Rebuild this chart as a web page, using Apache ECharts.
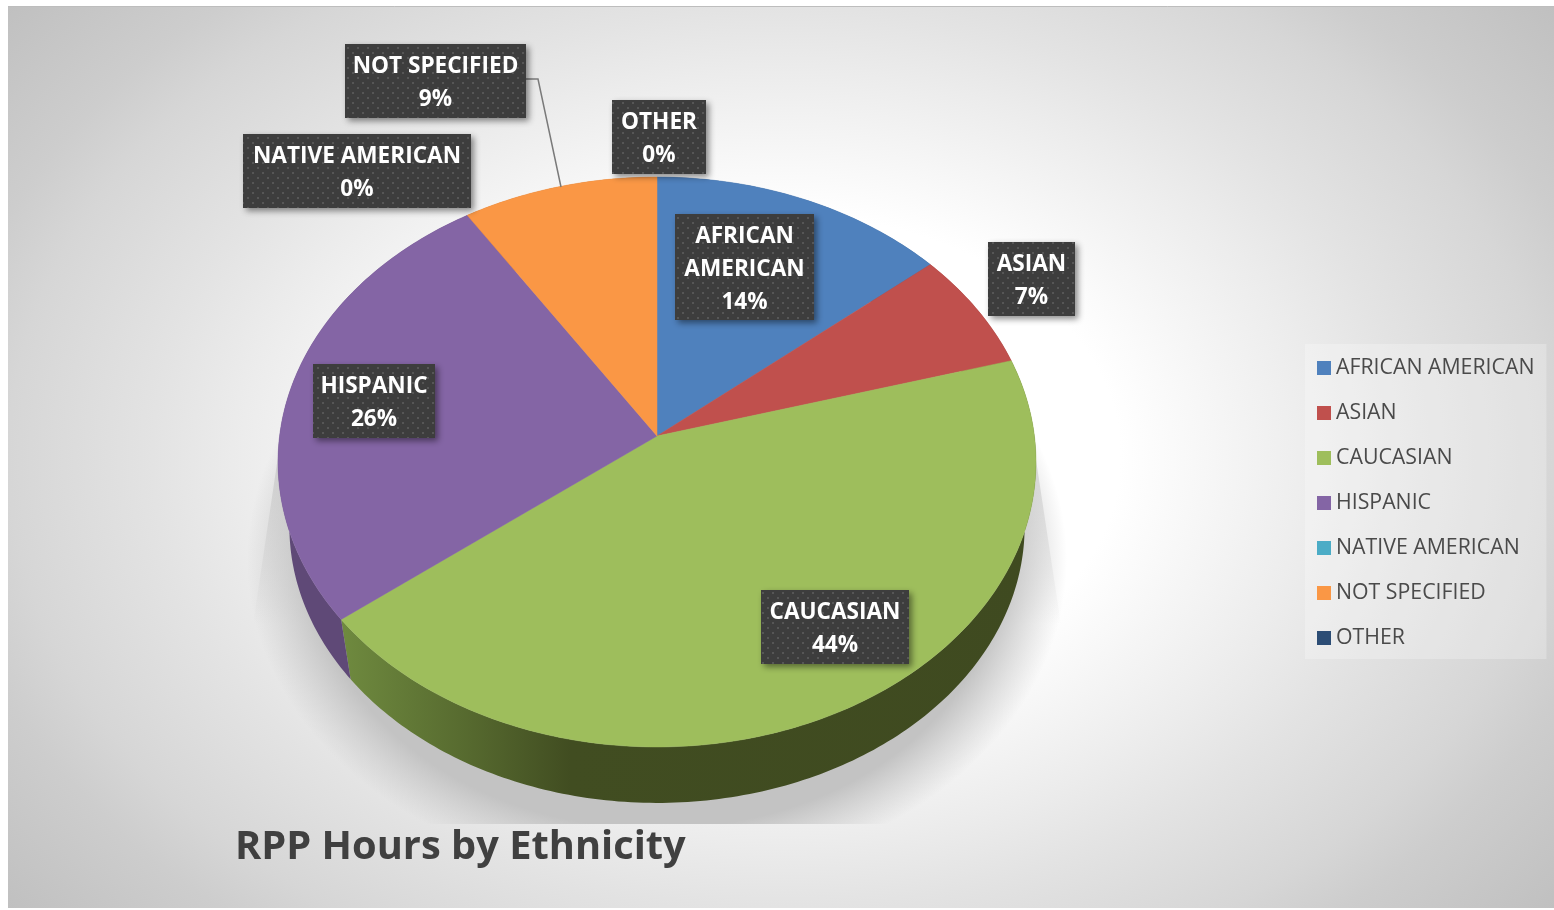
<!DOCTYPE html>
<html>
<head>
<meta charset="utf-8">
<title>RPP Hours by Ethnicity</title>
<script src="https://cdn.jsdelivr.net/npm/echarts@6/dist/echarts.min.js"></script>
<style>
  html, body { margin: 0; padding: 0; background: #fff; }
  #chart { width: 1554px; height: 910px; }
</style>
</head>
<body>
<div id="chart"></div>
<script>
// values (share of RPP hours, %)
const ethnicities = ['AFRICAN AMERICAN', 'ASIAN', 'CAUCASIAN', 'HISPANIC', 'NATIVE AMERICAN', 'NOT SPECIFIED', 'OTHER'];
const hours = [13.9, 6.7, 43.9, 26.4, 0, 9.1, 0];
const colors = ['#4f81bd', '#c0504d', '#9ebe5c', '#8465a5', '#4bacc6', '#fa9745', '#2c4d75'];

// callout boxes are hand placed in the original, so they are here too
const labelBoxes = [
    { x: 675, y: 214, w: 139, h: 106, lines: ['AFRICAN', 'AMERICAN'] },
    { x: 988, y: 242, w: 87, h: 74, lines: ['ASIAN'] },
    { x: 761, y: 590, w: 148, h: 74, lines: ['CAUCASIAN'] },
    { x: 313, y: 364, w: 122, h: 74, lines: ['HISPANIC'] },
    { x: 243, y: 134, w: 228, h: 74, lines: ['NATIVE AMERICAN'] },
    { x: 345, y: 44, w: 181, h: 74, lines: ['NOT SPECIFIED'] },
    { x: 612, y: 100, w: 94, h: 74, lines: ['OTHER'] }
];

const FONT = '"Open Sans", sans-serif';
const total = hours.reduce((a, b) => a + b, 0);

// perspective view of the pie disc: ellipse centre is lower than the apex
const CX = 657, EY = 462.5, RX = 377.4, RY = 285, LIFT = 26.5, PERSP = 0.0912;
const BASE_SCALE = 0.97, BASE_Y = 527;

function rimPoint(frac) {
    const th = frac * Math.PI * 2;
    const x = Math.sin(th), y = Math.cos(th);
    const w = 1 + PERSP * y;
    return [CX + RX * x / w, EY - (RY * y + LIFT) / w];
}
function basePoint(p) {
    return [CX + BASE_SCALE * (p[0] - CX), BASE_Y + BASE_SCALE * (p[1] - EY)];
}
function darken(hex, f) {
    const n = parseInt(hex.slice(1), 16);
    const c = [n >> 16, (n >> 8) & 255, n & 255].map(v => Math.round(v * f));
    return 'rgb(' + c.join(',') + ')';
}

// dotted fill of the callout boxes
const dots = document.createElement('canvas');
dots.width = 10;
dots.height = 10;
const dctx = dots.getContext('2d');
dctx.fillStyle = '#3d3d3d';
dctx.fillRect(0, 0, 10, 10);
dctx.fillStyle = '#565656';
dctx.fillRect(2, 2, 2, 2);
dctx.fillRect(7, 7, 2, 2);

function wallFill(idx) {
    if (ethnicities[idx] === 'CAUCASIAN') {
        return {
            type: 'linear', x: 0, y: 0, x2: 1, y2: 0,
            colorStops: [
                { offset: 0, color: '#6f8a3f' },
                { offset: 0.17, color: '#586c30' },
                { offset: 0.33, color: '#414d21' },
                { offset: 1, color: '#3f4a20' }
            ]
        };
    }
    return darken(colors[idx], 0.72);
}

function renderSlice(idx) {
    return function (params, api) {
        const value = api.value(0);
        const before = hours.slice(0, idx).reduce((a, b) => a + b, 0);
        const children = [];

        if (value > 0) {
            const steps = Math.ceil(value * 4);
            const top = [];
            for (let i = 0; i <= steps; i++) {
                top.push(rimPoint((before + value * i / steps) / total));
            }
            const wall = top.concat(top.map(basePoint).reverse());
            children.push({
                type: 'polygon', z2: 1,
                shape: { points: wall },
                style: { fill: wallFill(idx) }
            });
            children.push({
                type: 'polygon', z2: 10,
                shape: { points: [[CX, EY - LIFT]].concat(top) },
                style: { fill: colors[idx], stroke: colors[idx], lineWidth: 0.5 }
            });
        }

        const box = labelBoxes[idx];
        if (ethnicities[idx] === 'NOT SPECIFIED') {
            children.push({
                type: 'polyline', z2: 20,
                shape: { points: [[box.x + box.w, 79], [538, 79], [561, 187]] },
                style: { stroke: '#7a7a7a', lineWidth: 1.5, fill: null }
            });
        }
        children.push({
            type: 'rect', z2: 21,
            shape: { x: box.x, y: box.y, width: box.w, height: box.h },
            style: {
                fill: { image: dots, repeat: 'repeat' },
                shadowBlur: 6, shadowOffsetX: 3, shadowOffsetY: 3, shadowColor: 'rgba(0,0,0,0.45)'
            }
        });
        const lines = box.lines.concat(Math.round(value / total * 100) + '%');
        lines.forEach(function (line, i) {
            children.push({
                type: 'text', z2: 22,
                x: box.x + box.w / 2,
                y: box.y + 23 + i * 33,
                style: {
                    text: line, fill: '#fff', font: 'bold 22.6px ' + FONT,
                    textAlign: 'center', textVerticalAlign: 'middle'
                }
            });
        });
        return { type: 'group', children: children };
    };
}

// sharp edged strip beside the pie, dying out towards the floor shadow
function shadowStrip(points) {
    return {
        type: 'polygon',
        shape: { points: points },
        style: {
            fill: {
                type: 'linear', x: 0, y: 0, x2: 0, y2: 1,
                colorStops: [{ offset: 0, color: 'rgba(195,195,195,0.7)' }, { offset: 1, color: 'rgba(195,195,195,0)' }]
            }
        }
    };
}

// soft floor shadow, cut off flat just above the title like the original
function renderShadow() {
    return {
        type: 'group',
        clipPath: { type: 'rect', shape: { x: 0, y: 0, width: 1554, height: 824 } },
        children: [
            shadowStrip([[279, 450], [253, 625], [310, 625], [310, 450]]),
            shadowStrip([[1033, 440], [1061, 625], [1005, 625], [1005, 440]]),
            {
                type: 'circle',
                x: CX, y: 560,
                scaleY: 0.78,
                shape: { cx: 0, cy: 0, r: 410 },
                style: {
                    fill: {
                        type: 'radial', x: 0.5, y: 0.5, r: 0.5,
                        colorStops: [
                            { offset: 0, color: 'rgba(195,195,195,1)' },
                            { offset: 0.84, color: 'rgba(195,195,195,1)' },
                            { offset: 1, color: 'rgba(195,195,195,0)' }
                        ]
                    }
                }
            }
        ]
    };
}

const myChart = echarts.init(document.getElementById('chart'));

const series = [{
    type: 'custom',
    name: 'shadow',
    coordinateSystem: 'none',
    silent: true,
    z: 1,
    data: [[0]],
    renderItem: renderShadow
}];
ethnicities.forEach(function (name, i) {
    series.push({
        type: 'custom',
        name: name,
        coordinateSystem: 'none',
        silent: true,
        z: 2,
        itemStyle: { color: colors[i] },
        data: [[hours[i]]],
        renderItem: renderSlice(i)
    });
});

const option = {
    animation: false,
    backgroundColor: '#fff',
    title: {
        text: 'RPP Hours by Ethnicity',
        left: 230,
        top: 823,
        textStyle: { fontFamily: FONT, fontWeight: 'bold', fontSize: 39.8, color: '#404040' }
    },
    legend: {
        data: ethnicities,
        orient: 'vertical',
        left: 1305,
        top: 344,
        padding: [12, 12, 9, 12],
        backgroundColor: 'rgba(255,255,255,0.25)',
        icon: 'rect',
        itemWidth: 14,
        itemHeight: 14,
        itemGap: 21,
        selectedMode: false,
        textStyle: { fontFamily: FONT, fontSize: 21.3, color: '#4a4a4a', lineHeight: 24 }
    },
    graphic: [
        {
            // stretched sideways so the radial fade is an ellipse
            type: 'rect',
            z: -10,
            silent: true,
            x: 8,
            y: 6,
            scaleX: 1.4,
            shape: { x: 0, y: 0, width: 1546 / 1.4, height: 902 },
            style: {
                fill: {
                    type: 'radial', x: 0.5, y: 0.5, r: 0.79,
                    colorStops: [
                        { offset: 0, color: '#ffffff' },
                        { offset: 0.34, color: '#ffffff' },
                        { offset: 0.54, color: '#ececec' },
                        { offset: 0.63, color: '#e3e3e3' },
                        { offset: 0.774, color: '#d6d6d6' },
                        { offset: 0.846, color: '#cdcdcd' },
                        { offset: 1, color: '#c0c0c0' }
                    ]
                }
            }
        },
        {
            type: 'line',
            z: -9,
            silent: true,
            shape: { x1: 8, y1: 6.5, x2: 1554, y2: 6.5 },
            style: { stroke: '#bdbdbd', lineWidth: 1 }
        }
    ],
    series: series
};

myChart.setOption(option);
</script>
</body>
</html>
